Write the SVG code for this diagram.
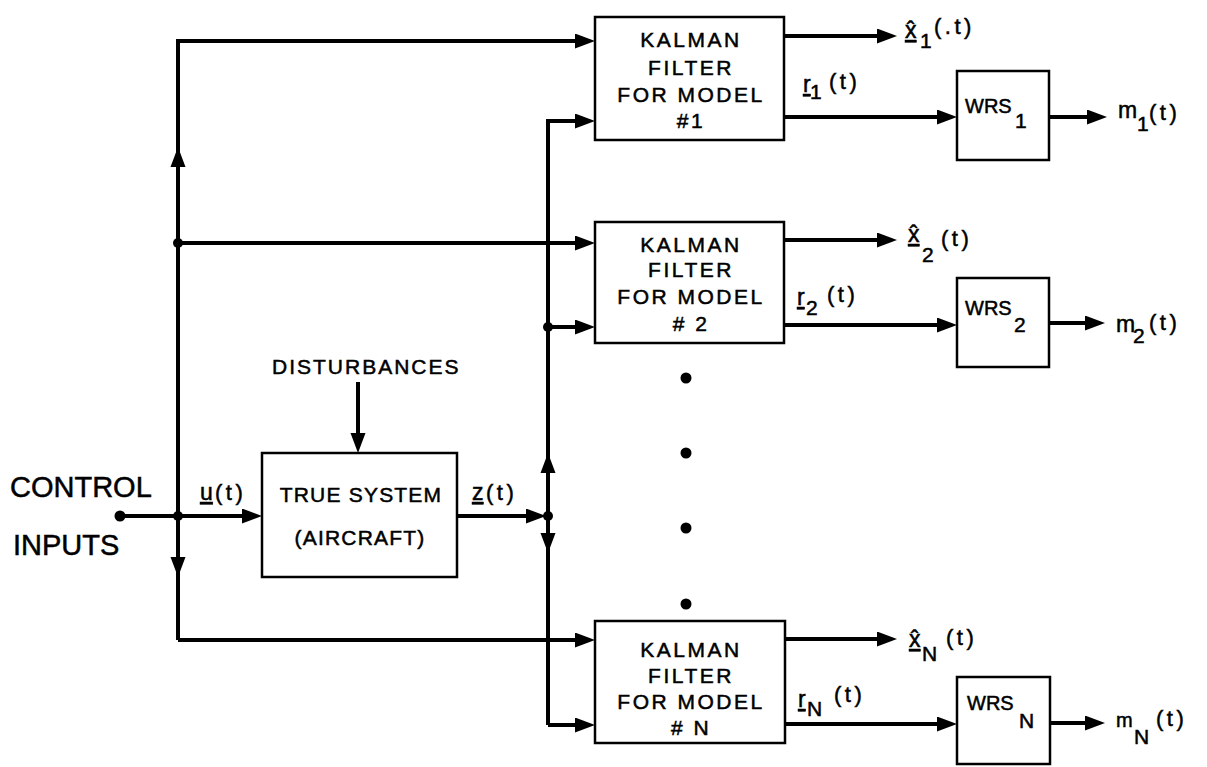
<svg xmlns="http://www.w3.org/2000/svg" xmlns:xlink="http://www.w3.org/1999/xlink" width="1207" height="767" viewBox="0 0 1207 767">
<style>
.bx{fill:#fff;stroke:#000;stroke-width:2.5}
.ln{fill:none;stroke:#000;stroke-width:4;stroke-linejoin:miter}
.ar{marker-end:url(#arr)}
text{font-family:"Liberation Sans",Arial,sans-serif;fill:#000;stroke:#000;stroke-width:0.5}
.kf{font-size:21px;letter-spacing:2.5px;text-anchor:middle}
.big{font-size:29px}
.lb{font-size:21px;letter-spacing:2px}
.ts{font-size:21px;letter-spacing:1.2px;text-anchor:middle}
.m{font-size:23px}
.p{font-size:22px;letter-spacing:3.5px}
.s{font-size:21px}
.sm{font-size:20px}
.w{font-size:20px}
.dot{fill:#000}
</style>
<defs>
<marker id="arr" markerUnits="userSpaceOnUse" markerWidth="20" markerHeight="16" refX="10" refY="7.5" orient="auto">
<path d="M0,0 L20,7.5 L0,15 Z" fill="#000"/>
</marker>
<path id="ah" d="M0,0 L-20,-7.5 L-20,7.5 Z" fill="#000"/>
</defs>

<g id="connectors">
<path class="ln ar" d="M120,516 H252"/>
<path class="ln ar" d="M358,382 V443"/>
<path class="ln ar" d="M457,516 H536"/>
<path class="ln ar" d="M178,640 V41 H585"/>
<path class="ln ar" d="M178,243 H585"/>
<path class="ln ar" d="M178,640 H585"/>
<path class="ln ar" d="M548,725 V121 H585"/>
<path class="ln ar" d="M548,327 H585"/>
<path class="ln ar" d="M548,725 H585"/>
<use xlink:href="#ah" transform="translate(178,147) rotate(-90)"/>
<use xlink:href="#ah" transform="translate(178,577) rotate(90)"/>
<use xlink:href="#ah" transform="translate(548,453) rotate(-90)"/>
<use xlink:href="#ah" transform="translate(548,553) rotate(90)"/>
<path class="ln ar" d="M784,36 H887"/>
<path class="ln ar" d="M784,117 H947"/>
<path class="ln ar" d="M1049,117 H1097"/>
<path class="ln ar" d="M784,240 H887"/>
<path class="ln ar" d="M784,325 H947"/>
<path class="ln ar" d="M1049,323 H1095"/>
<path class="ln ar" d="M784,639 H887"/>
<path class="ln ar" d="M784,724 H947"/>
<path class="ln ar" d="M1049,723 H1095"/>
<circle class="dot" cx="120" cy="516" r="5.5"/>
<circle class="dot" cx="178" cy="516" r="5"/>
<circle class="dot" cx="178" cy="243" r="5"/>
<circle class="dot" cx="548" cy="327" r="5"/>
<circle class="dot" cx="548" cy="516" r="5"/>
</g>

<g id="control-inputs">
<text class="big" x="10" y="497">CONTROL</text>
<text class="big" x="13" y="555">INPUTS</text>
</g>

<g id="disturbances">
<text class="lb" x="272" y="374">DISTURBANCES</text>
</g>

<g id="true-system">
<rect class="bx" x="262" y="453" width="195" height="124"/>
<text class="ts" x="361" y="502">TRUE SYSTEM</text>
<text class="ts" x="360" y="545">(AIRCRAFT)</text>
</g>

<g id="label-u">
<text class="m" x="200" y="500"><tspan text-decoration="underline">u</tspan></text>
<text class="p" x="215" y="500">(t)</text>
</g>
<g id="label-z">
<text class="m" x="472" y="500"><tspan text-decoration="underline">z</tspan></text>
<text class="p" x="486" y="500">(t)</text>
</g>

<g id="kf1">
<rect class="bx" x="595" y="17" width="189" height="123"/>
<text class="kf" x="691" y="47">KALMAN</text>
<text class="kf" x="691" y="75">FILTER</text>
<text class="kf" x="691" y="102">FOR MODEL</text>
<text class="kf" x="691" y="128">#1</text>
</g>
<g id="kf2">
<rect class="bx" x="595" y="222" width="189" height="121"/>
<text class="kf" x="691" y="252">KALMAN</text>
<text class="kf" x="691" y="277">FILTER</text>
<text class="kf" x="691" y="304">FOR MODEL</text>
<text class="kf" x="691" y="331"># 2</text>
</g>
<g id="kfN">
<rect class="bx" x="595" y="621" width="190" height="122"/>
<text class="kf" x="691" y="657">KALMAN</text>
<text class="kf" x="691" y="683">FILTER</text>
<text class="kf" x="691" y="709">FOR MODEL</text>
<text class="kf" x="691" y="735"># N</text>
</g>

<g id="ellipsis">
<circle class="dot" cx="686" cy="378" r="5.5"/>
<circle class="dot" cx="686" cy="453" r="5.5"/>
<circle class="dot" cx="686" cy="528" r="5.5"/>
<circle class="dot" cx="686" cy="604" r="5.5"/>
</g>

<g id="wrs1">
<rect class="bx" x="957" y="71" width="92" height="89"/>
<text class="w" x="965" y="113">WRS</text>
<text class="s" x="1015" y="128">1</text>
</g>
<g id="wrs2">
<rect class="bx" x="957" y="278" width="92" height="89"/>
<text class="w" x="965" y="315">WRS</text>
<text class="s" x="1014" y="332">2</text>
</g>
<g id="wrsN">
<rect class="bx" x="957" y="677" width="93" height="87"/>
<text class="w" x="967" y="710">WRS</text>
<text class="s" x="1019" y="728">N</text>
</g>

<g id="out-x1">
<text class="m" x="905" y="38"><tspan text-decoration="underline">x̂</tspan></text>
<text class="s" x="920" y="48">1</text>
<text class="p" x="934" y="34">(.t)</text>
</g>
<g id="out-x2">
<text class="m" x="908" y="242"><tspan text-decoration="underline">x̂</tspan></text>
<text class="s" x="922" y="262">2</text>
<text class="p" x="941" y="246">(t)</text>
</g>
<g id="out-xN">
<text class="m" x="909" y="647"><tspan text-decoration="underline">x̂</tspan></text>
<text class="s" x="922" y="661">N</text>
<text class="p" x="946" y="645">(t)</text>
</g>

<g id="out-r1">
<text class="m" x="803" y="92"><tspan text-decoration="underline">r</tspan></text>
<text class="s" x="810" y="99">1</text>
<text class="p" x="829" y="89">(t)</text>
</g>
<g id="out-r2">
<text class="m" x="797" y="305"><tspan text-decoration="underline">r</tspan></text>
<text class="s" x="806" y="315">2</text>
<text class="p" x="827" y="302">(t)</text>
</g>
<g id="out-rN">
<text class="m" x="798" y="707"><tspan text-decoration="underline">r</tspan></text>
<text class="s" x="807" y="716">N</text>
<text class="p" x="834" y="702">(t)</text>
</g>

<g id="out-m1">
<text class="m" x="1118" y="118">m</text>
<text class="s" x="1137" y="131">1</text>
<text class="p" x="1149" y="120">(t)</text>
</g>
<g id="out-m2">
<text class="m" x="1116" y="332">m</text>
<text class="s" x="1133" y="343">2</text>
<text class="p" x="1149" y="330">(t)</text>
</g>
<g id="out-mN">
<text class="sm" x="1116" y="727">m</text>
<text class="s" x="1134" y="744">N</text>
<text class="p" x="1156" y="726">(t)</text>
</g>
</svg>
